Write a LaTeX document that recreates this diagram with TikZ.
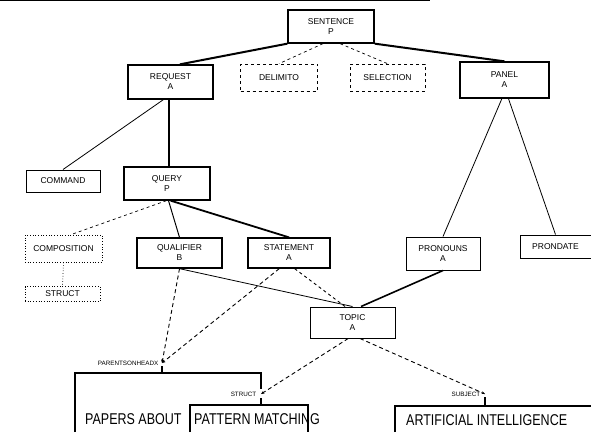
\documentclass[tikz,border=0pt]{standalone}
\usepackage{fontspec}
\setmainfont{Liberation Sans}
\usetikzlibrary{arrows.meta,calc}
\begin{document}
\begin{tikzpicture}[x=1pt,y=-1pt,
  box/.style={draw,line width=1.3pt,align=center,inner sep=1pt,font=\fontsize{8.5}{10}\selectfont},
  faintbox/.style={box,line width=0.7pt,dashed},
  heavy/.style={line width=2pt},
  thin/.style={line width=0.8pt},
  weak/.style={line width=0.7pt,dashed},
  ref/.style={line width=0.9pt,dash pattern=on 4pt off 3pt,-{Stealth[length=3.5pt,width=3pt]}},
  tag/.style={inner sep=0.5pt,font=\fontsize{6.3}{7}\selectfont},
  frame/.style={line width=1.1pt},
  big/.style={inner sep=0pt,anchor=base west,font=\fontsize{12.5}{14}\selectfont}]
\useasboundingbox (0,0) rectangle (591,432);

% rule along the upper edge
\draw[line width=1.4pt] (0,0.7) -- (430,0.7);

% tree nodes
\node[box,minimum width=86pt,minimum height=33pt] (sent) at (331,26.5) {SENTENCE\\P};
\node[box,minimum width=85pt,minimum height=34pt] (req) at (170.5,82) {REQUEST\\A};
\node[faintbox,minimum width=77pt,minimum height=27pt] (delim) at (279,77.5) {DELIMITO};
\node[faintbox,minimum width=75pt,minimum height=27pt] (sel) at (387.5,77.5) {SELECTION};
\node[box,minimum width=89pt,minimum height=36pt] (panel) at (504.5,80) {PANEL\\A};
\node[box,line width=1pt,minimum width=74pt,minimum height=22pt] (cmd) at (63,181) {COMMAND};
\node[box,minimum width=86pt,minimum height=33pt] (query) at (167,183.5) {QUERY\\P};
\node[faintbox,dotted,minimum width=77pt,minimum height=27pt] (comp) at (63.5,248.5) {COMPOSITION};
\node[faintbox,dotted,minimum width=75pt,minimum height=15pt] (strct) at (62.5,294) {STRUCT};
\node[box,minimum width=85pt,minimum height=30pt] (qual) at (179.5,253) {QUALIFIER\\B};
\node[box,minimum width=82pt,minimum height=30pt] (stmt) at (289,253) {STATEMENT\\A};
\node[box,line width=1pt,minimum width=74pt,minimum height=33pt] (pron) at (443,253.5) {PRONOUNS\\A};
\node[box,line width=1pt,minimum width=71pt,minimum height=23pt] (prond) at (555.5,246.5) {PRONDATE};
\node[box,line width=1pt,minimum width=85pt,minimum height=31pt] (topic) at (352.5,322.5) {TOPIC\\A};

% tree connectors
\draw[heavy] (sent.south west) -- (req.62);
\draw[weak] (sent.-115) -- (delim.north);
\draw[weak] (sent.-62) -- (sel.north);
\draw[heavy] (sent.south east) -- (panel.north);
\draw[thin] (req.248) -- (cmd.north);
\draw[line width=1.3pt] (req.265) -- (req.265 |- query.north);
\draw[thin] (panel.262) -- (pron.north);
\draw[thin] (panel.282) -- (prond.north);
\draw[weak] (query.268) -- (comp.62);
\draw[line width=1pt] (query.275) -- (qual.north);
\draw[line width=1.8pt] (query.282) -- (stmt.north);
\draw[line width=0.7pt,dotted] (comp.south) -- (strct.north);
\draw[thin] (qual.south) -- (topic.north);
\draw[weak,line width=0.9pt] (stmt.-70) -- (topic.115);
\draw[line width=1.6pt] (pron.south) -- (topic.62);

% description frames at the foot
\coordinate (pshpt) at (162,363);
\coordinate (strpt) at (261,394);
\coordinate (subpt) at (485,394);
\node[tag,anchor=east] (pshlab) at ($(pshpt)+(-3,0)$) {PARENTSONHEADX};
\node[tag,anchor=east] (strlab) at ($(strpt)+(-4,0)$) {STRUCT};
\node[tag,anchor=east] (sublab) at ($(subpt)+(-4,0)$) {SUBJECT};

\draw[ref] (qual.south) -- (pshpt);
\draw[ref] (stmt.238) -- (pshpt);
\draw[ref] (topic.255) -- (strpt);
\draw[ref] (topic.295) -- (subpt);

\draw[frame] (75,432) -- (75,373) -- (261,373) -- (261,389);
\draw[frame] (pshpt) ++(0,3) -- (162,373);
\draw[frame] (261,398) -- (261,405);
\draw[frame] (190,432) -- (190,405) -- (308,405) -- (308,432);
\draw[frame] (485,397) -- (485,406);
\draw[frame] (395,432) -- (395,406) -- (591,406);

\node[big] (t1) at (85,424) {\scalebox{1}[1.25]{PAPERS ABOUT}};
\node[big] (t2) at (194,424) {\scalebox{1}[1.25]{PATTERN MATCHING}};
\node[big] (t3) at (406,425) {\scalebox{1}[1.25]{ARTIFICIAL INTELLIGENCE}};
\end{tikzpicture}
\end{document}
